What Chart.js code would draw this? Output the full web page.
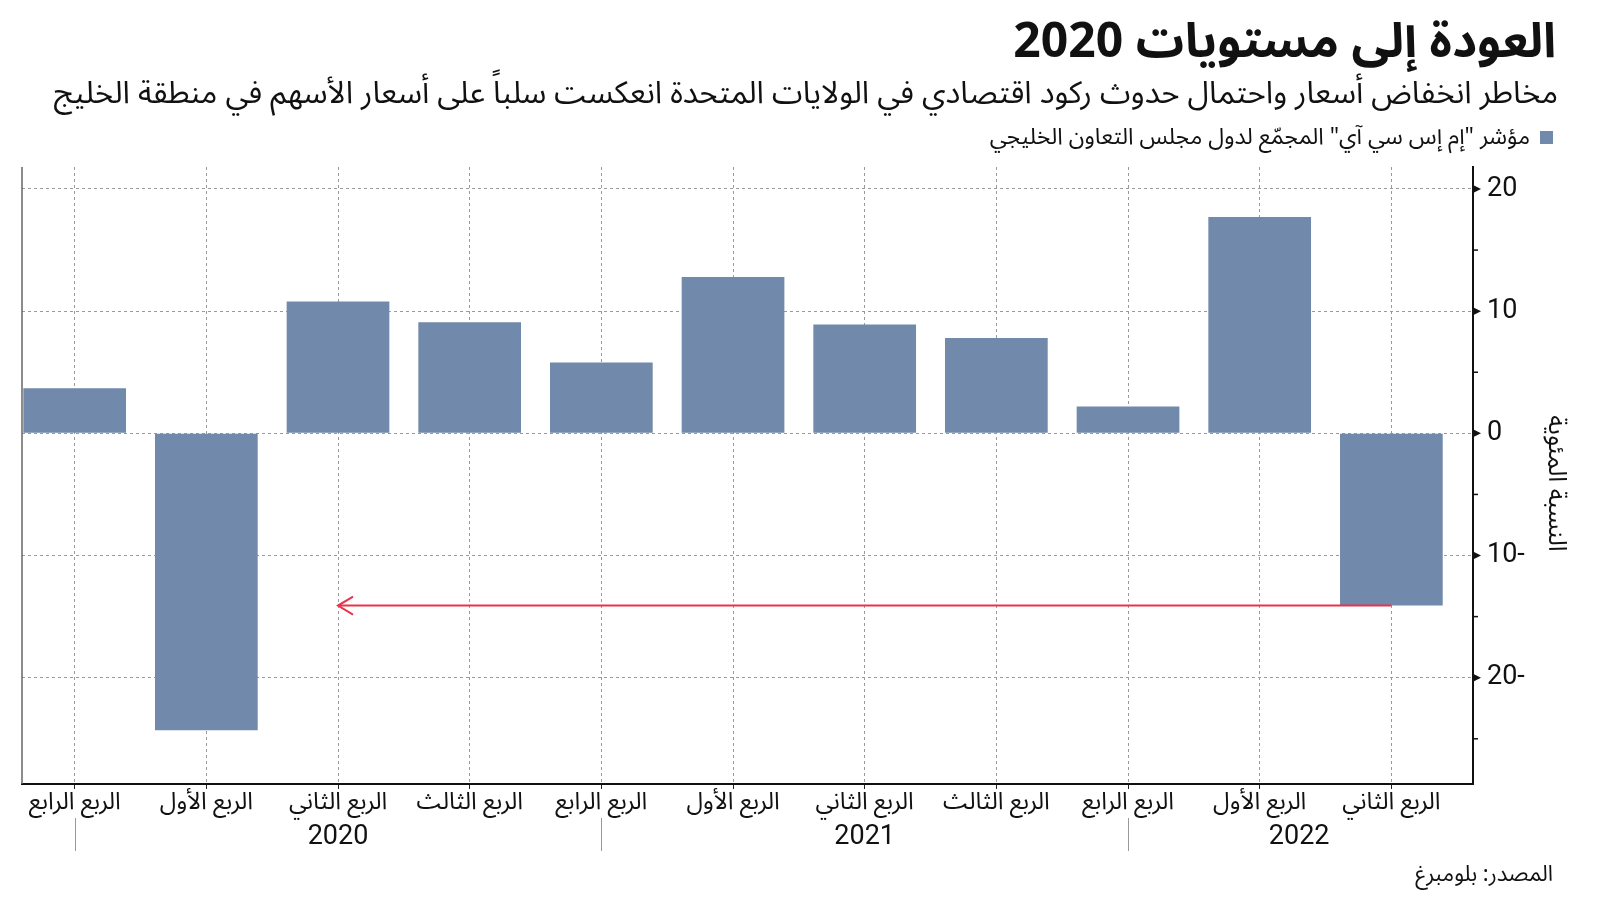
<!DOCTYPE html>
<html lang="ar">
<head>
<meta charset="utf-8">
<title>العودة إلى مستويات 2020</title>
<script src="https://cdn.jsdelivr.net/npm/chart.js@4.4.1/dist/chart.umd.min.js"></script>
<style>
  html, body { margin: 0; padding: 0; background: #fff; }
  body { width: 1600px; height: 901px; position: relative; overflow: hidden;
         font-family: "Noto Sans Arabic", "DejaVu Sans", sans-serif; color: #111; }
  #chart { position: absolute; left: 0; top: 0; }
  .txt { position: absolute; direction: rtl; white-space: nowrap; line-height: 1; }
  #title { right: 44px; top: 18px; font-size: 48px; font-weight: bold; }
  #subtitle { right: 42px; top: 78px; font-size: 31px; }
  #legend { right: 47px; top: 125px; font-size: 23px; }
  #legend .sw { display: inline-block; width: 13px; height: 13px; background: #7189aa;
                margin-left: 10px; vertical-align: middle; }
  #source { right: 47px; top: 863px; font-size: 22px; }
</style>
</head>
<body>
<canvas id="chart" width="1600" height="901"></canvas>
<div class="txt" id="title">العودة إلى مستويات 2020</div>
<div class="txt" id="subtitle">مخاطر انخفاض أسعار واحتمال حدوث ركود اقتصادي في الولايات المتحدة انعكست سلباً على أسعار الأسهم في منطقة الخليج</div>
<div class="txt" id="legend"><span class="sw"></span>مؤشر "إم إس سي آي" المجمّع لدول مجلس التعاون الخليجي</div>
<div class="txt" id="source">المصدر: بلومبرغ</div>

<script>
// data
const quarterLabels = ["الربع الرابع", "الربع الأول", "الربع الثاني", "الربع الثالث", "الربع الرابع",
  "الربع الأول", "الربع الثاني", "الربع الثالث", "الربع الرابع", "الربع الأول", "الربع الثاني"];
const changePct = [3.7, -24.3, 10.8, 9.1, 5.8, 12.8, 8.9, 7.8, 2.2, 17.7, -14.1];
const yearLabels = ["2020", "2021", "2022"];
const yearLabelAt = [2, 6, 9.3];
const yearSeparatorsAt = [0, 4, 8];
const yMajorTicks = [-20, -10, 0, 10, 20];
const yMinorTicks = [-25, -15, -5, 5, 15];
const arrowPath = [{ x: 10, y: -14.1 }, { x: 2, y: -14.1 }];
const yTitle = "النسبة المئوية";

const BAR_COLOR = "#7189aa";
const ARROW_COLOR = "#e8334a";
const GRID_COLOR = "#9a9a9a";
const AR_FONT = '"Noto Sans Arabic", "DejaVu Sans", sans-serif';
const NUM_FONT = 'Roboto, "DejaVu Sans", sans-serif';

// extra bits drawn on top: left border, axis marks, years, arrow head, y title
const decorPlugin = {
  id: "decor",
  afterDraw(chart) {
    const { ctx, chartArea: a, scales: { x, y } } = chart;
    ctx.save();

    // left frame line
    ctx.strokeStyle = "#666";
    ctx.lineWidth = 1.5;
    ctx.beginPath();
    ctx.moveTo(a.left, a.top);
    ctx.lineTo(a.left, a.bottom);
    ctx.stroke();

    // major tick triangles, minor tick dashes on the right axis
    ctx.fillStyle = "#111";
    yMajorTicks.forEach(v => {
      const py = y.getPixelForValue(v);
      ctx.beginPath();
      ctx.moveTo(a.right, py - 4);
      ctx.lineTo(a.right + 8, py);
      ctx.lineTo(a.right, py + 4);
      ctx.closePath();
      ctx.fill();
    });
    ctx.strokeStyle = "#111";
    ctx.lineWidth = 1.5;
    yMinorTicks.forEach(v => {
      const py = y.getPixelForValue(v);
      ctx.beginPath();
      ctx.moveTo(a.right, py);
      ctx.lineTo(a.right + 5, py);
      ctx.stroke();
    });

    // year separators and labels
    ctx.strokeStyle = "#999";
    ctx.lineWidth = 1;
    yearSeparatorsAt.forEach(v => {
      const px = Math.round(x.getPixelForValue(v)) + 0.5;
      ctx.beginPath();
      ctx.moveTo(px, a.bottom + 34);
      ctx.lineTo(px, a.bottom + 67);
      ctx.stroke();
    });
    ctx.fillStyle = "#111";
    ctx.font = "27px " + NUM_FONT;
    ctx.textAlign = "center";
    ctx.textBaseline = "middle";
    yearLabels.forEach((t, i) => ctx.fillText(t, x.getPixelForValue(yearLabelAt[i]), a.bottom + 53));

    // arrow head at the end of the red line
    const meta = chart.getDatasetMeta(1);
    const tip = meta.data[meta.data.length - 1];
    ctx.strokeStyle = ARROW_COLOR;
    ctx.lineWidth = 2;
    ctx.beginPath();
    ctx.moveTo(tip.x + 15, tip.y - 9);
    ctx.lineTo(tip.x, tip.y);
    ctx.lineTo(tip.x + 15, tip.y + 9);
    ctx.stroke();

    // y axis title, rotated clockwise
    ctx.translate(1553, (a.top + a.bottom) / 2 + 8);
    ctx.rotate(Math.PI / 2);
    ctx.fillStyle = "#111";
    ctx.font = "25px " + AR_FONT;
    ctx.direction = "rtl";
    ctx.fillText(yTitle, 0, 0);

    ctx.restore();
  }
};

new Chart(document.getElementById("chart"), {
  data: {
    datasets: [
      {
        type: "bar",
        data: changePct.map((v, i) => ({ x: i, y: v })),
        backgroundColor: BAR_COLOR,
        barPercentage: 0.78,
        categoryPercentage: 1,
        order: 1
      },
      {
        type: "line",
        data: arrowPath,
        borderColor: ARROW_COLOR,
        borderWidth: 2,
        pointRadius: 0,
        fill: false,
        order: 0
      }
    ]
  },
  options: {
    responsive: false,
    animation: false,
    layout: { padding: { left: 22, top: 167, right: 0, bottom: 0 } },
    plugins: { legend: { display: false }, tooltip: { enabled: false } },
    scales: {
      x: {
        type: "linear",
        offset: false,
        min: -0.4,
        max: 10.62,
        afterBuildTicks: s => { s.ticks = quarterLabels.map((_, i) => ({ value: i })); },
        afterFit: s => { s.height = 117; },
        grid: { offset: false, color: GRID_COLOR, lineWidth: 1, tickLength: 5, tickColor: "#222", tickBorderDash: [] },
        border: { color: "#111", width: 2, dash: [3, 3] },
        ticks: {
          autoSkip: false, maxRotation: 0, padding: 2, color: "#111",
          font: { family: AR_FONT, size: 24 },
          callback: v => quarterLabels[v]
        }
      },
      y: {
        position: "right",
        min: -28.7,
        max: 21.8,
        afterBuildTicks: s => { s.ticks = yMajorTicks.map(v => ({ value: v })); },
        afterFit: s => { s.width = 127; },
        grid: { color: GRID_COLOR, lineWidth: 1, drawTicks: false },
        border: { color: "#111", width: 2, dash: [3, 3] },
        ticks: {
          padding: 14, color: "#111",
          font: { family: NUM_FONT, size: 27 },
          callback: v => (v < 0 ? `${-v}-` : `${v}`)
        }
      }
    }
  },
  plugins: [decorPlugin]
});
</script>
</body>
</html>
